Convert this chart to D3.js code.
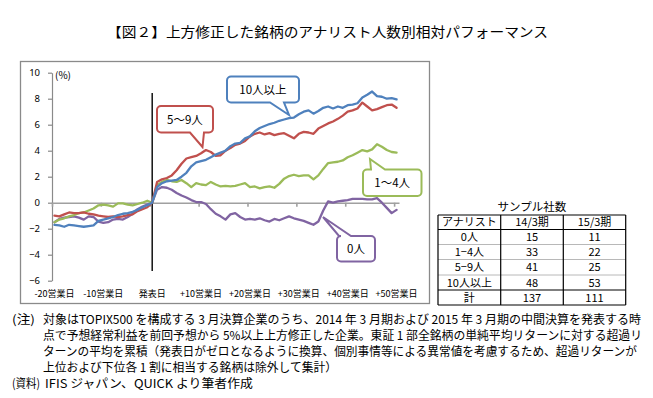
<!DOCTYPE html>
<html>
<head>
<meta charset="utf-8">
<script src="https://cdn.jsdelivr.net/npm/d3@7"></script>
<style>
body { margin: 0; background: #fff; }
text { font-family: "Noto Sans CJK JP", "Noto Sans", sans-serif; fill: #000; }
</style>
</head>
<body>
<script>
// categories: business days around the announcement (-20 ... +50)
var days = d3.range(-20, 51);

// cumulative excess return (%) per analyst-count group
var s10plus = [-1.7,-1.75,-1.85,-1.7,-1.75,-1.8,-1.85,-1.8,-1.75,-1.4,-1.3,-1.2,-1.1,-0.95,-0.85,-0.8,-0.7,-0.55,-0.35,-0.2,
  0,1.2,1.5,1.65,1.7,1.75,2.0,2.3,2.8,3.1,3.2,3.3,3.5,3.7,3.85,4.0,4.35,4.55,4.6,4.95,5.1,5.5,5.75,5.9,6.05,6.15,6.3,6.4,6.5,6.55,
  6.8,7.0,7.1,6.85,7.05,7.3,7.4,7.25,7.4,7.3,7.5,7.55,7.65,8.1,8.3,8.55,8.2,8.15,8.0,8.05,7.95];
var s5to9 = [-1.0,-1.05,-0.9,-0.75,-0.8,-0.8,-0.75,-0.85,-0.9,-1.0,-1.05,-1.1,-1.05,-1.1,-1.05,-0.95,-0.9,-0.65,-0.5,-0.35,
  0,1.6,1.8,1.9,2.1,2.5,3.0,3.4,3.5,3.6,3.8,4.05,3.9,3.6,3.65,4.0,4.2,4.45,4.55,4.75,5.1,5.3,5.4,5.25,5.35,5.2,5.3,5.35,5.15,4.95,
  5.3,5.45,5.4,5.3,5.7,5.9,6.1,6.25,6.45,6.7,7.0,7.1,7.25,7.7,7.4,7.1,7.2,7.35,7.5,7.55,7.3];
var s1to4 = [-1.5,-1.3,-1.2,-1.05,-0.95,-0.8,-0.75,-0.6,-0.45,-0.2,-0.15,-0.2,-0.3,-0.05,-0.05,-0.15,-0.2,-0.1,0.0,0.15,
  0,1.35,1.6,1.75,1.65,1.6,1.75,1.5,1.2,1.5,1.4,1.35,1.6,1.4,1.25,1.3,1.25,1.3,1.4,1.5,1.2,1.25,1.1,1.2,1.25,1.15,1.45,1.85,2.05,2.15,
  2.05,2.1,2.1,1.8,2.1,2.6,3.05,3.1,3.15,3.25,3.5,3.65,3.85,4.05,3.95,4.1,4.5,4.3,4.05,3.9,3.85];
var s0 = [-1.5,-1.25,-1.15,-1.1,-1.05,-1.15,-1.3,-1.05,-1.1,-1.45,-1.55,-1.5,-1.3,-1.25,-1.3,-1.1,-0.85,-0.5,-0.3,-0.15,
  0,1.0,1.2,1.15,1.0,0.75,0.55,0.4,0.2,0.05,0.05,-0.1,-0.5,-0.85,-1.05,-1.3,-0.9,-0.8,-1.1,-1.3,-1.25,-1.3,-1.2,-1.35,-1.45,-1.25,-1.35,-1.2,-1.05,-1.2,
  -1.3,-1.4,-1.55,-1.7,-1.45,-0.6,0.1,0.0,0.1,0.15,0.2,0.3,0.3,0.3,0.25,0.25,0.35,0.0,-0.4,-0.8,-0.55];

var xTickDays = [-20, -10, 0, 10, 20, 30, 40, 50];
var xTickLabels = ["-20営業日", "-10営業日", "発表日", "+10営業日", "+20営業日", "+30営業日", "+40営業日", "+50営業日"];
var yTicks = [-6, -4, -2, 0, 2, 4, 6, 8, 10];

// sample table
var tableHead = ["アナリスト", "14/3期", "15/3期"];
var tableGroups = ["0人", "1−4人", "5−9人", "10人以上", "計"];
var count14 = [15, 33, 41, 48, 137];
var count15 = [11, 22, 25, 53, 111];

var notes = [
  "対象はTOPIX500 を構成する 3 月決算企業のうち、2014 年 3 月期および 2015 年 3 月期の中間決算を発表する時",
  "点で予想経常利益を前回予想から 5%以上上方修正した企業。東証 1 部全銘柄の単純平均リターンに対する超過リ",
  "ターンの平均を累積（発表日がゼロとなるように換算、個別事情等による異常値を考慮するため、超過リターンが",
  "上位および下位各 1 割に相当する銘柄は除外して集計）"
];

var w = 653, h = 398;
var svg = d3.select("body").append("svg")
    .attr("width", w)
    .attr("height", h)
    .style("background", "#fff");

// title
svg.append("text")
    .attr("x", 107).attr("y", 36.5)
    .attr("textLength", 441).attr("lengthAdjust", "spacingAndGlyphs")
    .style("font-size", "13.5px")
    .text("【図２】上方修正した銘柄のアナリスト人数別相対パフォーマンス");

// chart frame
svg.append("rect")
    .attr("x", 20.5).attr("y", 61.5)
    .attr("width", 409).attr("height", 242)
    .attr("fill", "none")
    .attr("stroke", "#8a8a8a")
    .attr("stroke-width", 1.3);

var x = d3.scaleLinear().domain([-20.5, 50.5]).range([52, 399]);
var y = d3.scaleLinear().domain([-6, 10]).range([280.7, 72.7]);

// y axis
var yAxis = svg.append("g")
    .attr("class", "axis")
    .attr("transform", "translate(52,0)")
    .call(d3.axisLeft(y).tickValues(yTicks).tickSize(4).tickSizeOuter(0).tickPadding(8));
yAxis.selectAll("path, line").attr("stroke", "#8a8a8a").attr("stroke-width", 1.2);
yAxis.selectAll("text")
    .style("font-size", "9.5px")
    .style("font-family", "'Noto Sans', sans-serif")
    .attr("fill", "#000");

svg.append("text")
    .attr("x", 55).attr("y", 78.5)
    .style("font-size", "10px")
    .text("(%)");

// zero line with category ticks
var y0 = y(0);
var xAxis = svg.append("g")
    .attr("class", "axis")
    .attr("transform", "translate(0," + y0 + ")")
    .call(d3.axisBottom(x)
        .tickValues(xTickDays.map(function(d){ return d - 0.5; }))
        .tickSize(4).tickSizeOuter(0).tickFormat(""));
xAxis.selectAll("path, line").attr("stroke", "#a0a0a0").attr("stroke-width", 1.6);

// x labels at the bottom
svg.selectAll(".xlab")
    .data(xTickDays)
    .enter()
    .append("text")
    .attr("class", "xlab")
    .attr("x", function(d){ return x(d); })
    .attr("y", 296.5)
    .attr("text-anchor", "middle")
    .style("font-size", "9px")
    .text(function(d, i){ return xTickLabels[i]; });

// announcement line
svg.append("line")
    .attr("x1", x(0)).attr("x2", x(0))
    .attr("y1", 93).attr("y2", 271)
    .attr("stroke", "#000")
    .attr("stroke-width", 1.4);

// series
var series = [
  { name: "0人", values: s0, color: "#8064a2" },
  { name: "1〜4人", values: s1to4, color: "#9bbb59" },
  { name: "5〜9人", values: s5to9, color: "#c0504d" },
  { name: "10人以上", values: s10plus, color: "#4f81bd" }
];

var line = d3.line()
    .x(function(d, i){ return x(days[i]); })
    .y(function(d){ return y(d); });

svg.selectAll(".series")
    .data(series)
    .enter()
    .append("path")
    .attr("class", "series")
    .attr("d", function(d){ return line(d.values); })
    .attr("fill", "none")
    .attr("stroke", function(d){ return d.color; })
    .attr("stroke-width", 2.3)
    .attr("stroke-linejoin", "round")
    .attr("stroke-linecap", "round");

// callouts (rounded box + pointer)
function callout(b, t) {
  var r = 4, p = d3.path();
  p.moveTo(b.x0 + r, b.y0);
  if (t.edge == "top") { p.lineTo(t.a, b.y0); p.lineTo(t.tx, t.ty); p.lineTo(t.c, b.y0); }
  p.lineTo(b.x1 - r, b.y0);
  p.arcTo(b.x1, b.y0, b.x1, b.y0 + r, r);
  p.lineTo(b.x1, b.y1 - r);
  p.arcTo(b.x1, b.y1, b.x1 - r, b.y1, r);
  if (t.edge == "bottom") { p.lineTo(t.c, b.y1); p.lineTo(t.tx, t.ty); p.lineTo(t.a, b.y1); }
  p.lineTo(b.x0 + r, b.y1);
  p.arcTo(b.x0, b.y1, b.x0, b.y1 - r, r);
  p.lineTo(b.x0, b.y0 + r);
  p.arcTo(b.x0, b.y0, b.x0 + r, b.y0, r);
  p.closePath();
  return p.toString();
}

var callouts = [
  { s: 3, box: { x0: 227, y0: 76.5, x1: 299, y1: 102.5 }, tail: { edge: "bottom", a: 270, c: 284, tx: 289, ty: 115 } },
  { s: 2, box: { x0: 157, y0: 106, x1: 213, y1: 132.5 }, tail: { edge: "bottom", a: 190, c: 204, tx: 202.5, ty: 147 } },
  { s: 1, box: { x0: 363, y0: 169.5, x1: 421.5, y1: 196 }, tail: { edge: "top", a: 371, c: 385, tx: 370, ty: 159 } },
  { s: 0, box: { x0: 337, y0: 236, x1: 375, y1: 261.5 }, tail: { edge: "top", a: 339, c: 351, tx: 323, ty: 217 } }
];

var co = svg.selectAll(".callout")
    .data(callouts)
    .enter()
    .append("g")
    .attr("class", "callout");

co.append("path")
    .attr("d", function(d){ return callout(d.box, d.tail); })
    .attr("fill", "#fff")
    .attr("stroke", function(d){ return series[d.s].color; })
    .attr("stroke-width", 2);

co.append("text")
    .attr("x", function(d){ return (d.box.x0 + d.box.x1) / 2; })
    .attr("y", function(d){ return (d.box.y0 + d.box.y1) / 2 + 4.5; })
    .attr("text-anchor", "middle")
    .style("font-size", "11.5px")
    .text(function(d){ return series[d.s].name; });

// sample count table
var colX = [438, 500.7, 563.3, 625.7];
var rowY = [215, 229.5, 244.5, 259.5, 275, 290, 305];

svg.append("text")
    .attr("x", (colX[0] + colX[3]) / 2).attr("y", 210.5)
    .attr("text-anchor", "middle")
    .style("font-size", "11.5px")
    .text("サンプル社数");

var tbl = svg.append("g").attr("class", "table");

rowY.forEach(function(ry, i){
  var dark = (i == 0 || i == 1 || i == 5 || i == 6);
  tbl.append("line")
      .attr("x1", colX[0]).attr("x2", colX[3])
      .attr("y1", ry).attr("y2", ry)
      .attr("stroke", dark ? "#000" : "#b8b8b8")
      .attr("stroke-width", dark ? 1.2 : 1);
});
colX.forEach(function(cx){
  tbl.append("line")
      .attr("x1", cx).attr("x2", cx)
      .attr("y1", rowY[0]).attr("y2", rowY[6])
      .attr("stroke", "#000")
      .attr("stroke-width", 1.2);
});

var cellRows = [tableHead].concat(tableGroups.map(function(g, i){
  return [g, String(count14[i]), String(count15[i])];
}));

cellRows.forEach(function(row, ri){
  row.forEach(function(txt, ci){
    tbl.append("text")
        .attr("x", (colX[ci] + colX[ci + 1]) / 2)
        .attr("y", (rowY[ri] + rowY[ri + 1]) / 2 + 4)
        .attr("text-anchor", "middle")
        .style("font-size", "11px")
        .text(txt);
  });
});

// notes
var noteEnds = [641, 642, 637, 337];
var noteY = [323.5, 339.5, 355.5, 371.5];

svg.append("text")
    .attr("x", 12).attr("y", noteY[0])
    .attr("textLength", 23).attr("lengthAdjust", "spacingAndGlyphs")
    .style("font-size", "12px")
    .text("(注)");

notes.forEach(function(t, i){
  svg.append("text")
      .attr("x", 43).attr("y", noteY[i])
      .attr("textLength", noteEnds[i] - 43).attr("lengthAdjust", "spacingAndGlyphs")
      .style("font-size", "12px")
      .text(t);
});

svg.append("text")
    .attr("x", 12).attr("y", 387.5)
    .attr("textLength", 28).attr("lengthAdjust", "spacingAndGlyphs")
    .style("font-size", "12px")
    .text("(資料)");
svg.append("text")
    .attr("x", 45).attr("y", 387.5)
    .attr("textLength", 208).attr("lengthAdjust", "spacingAndGlyphs")
    .style("font-size", "12px")
    .text("IFIS ジャパン、QUICK より筆者作成");
</script>
</body>
</html>
